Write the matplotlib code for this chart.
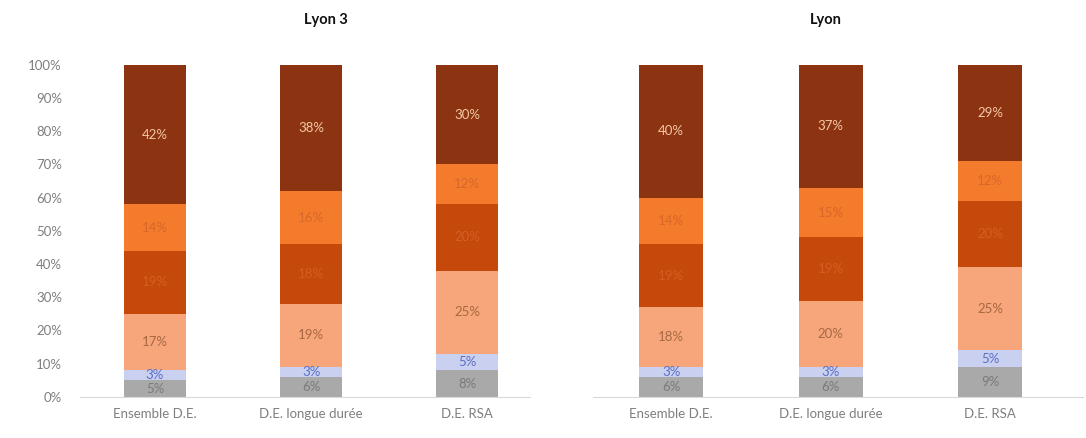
import matplotlib.pyplot as plt
import numpy as np

plt.rcParams["font.family"] = ["Lato", "DejaVu Sans"]

categories = ["Ensemble D.E.", "D.E. longue durée", "D.E. RSA"]
panel_titles = ["Lyon 3", "Lyon"]

# stacked shares, bottom to top
lyon3 = [
    [5, 6, 8],     # gris
    [3, 3, 5],     # lavande
    [17, 19, 25],  # pêche
    [19, 18, 20],  # orange foncé
    [14, 16, 12],  # orange
    [42, 38, 30],  # brun
]
lyon = [
    [6, 6, 9],
    [3, 3, 5],
    [18, 20, 25],
    [19, 19, 20],
    [14, 15, 12],
    [40, 37, 29],
]

seg_colors = ["#a9a9a9", "#c9d0f0", "#f6a67a", "#c4490b", "#f47a2c", "#8c3411"]
txt_colors = ["#7a7a7a", "#5b6fc4", "#a86842", "#d65e24", "#d8672a", "#f4c7a6"]

fig = plt.figure(figsize=(10.86, 4.38), dpi=100)
ax_l = fig.add_axes([0.0737, 0.094, 0.414, 0.758])
ax_r = fig.add_axes([0.546, 0.094, 0.451, 0.758])


def draw_panel(ax, data, xlim, show_y):
    x = np.arange(len(categories))
    bottom = np.zeros(len(categories))
    for vals, col, tcol in zip(data, seg_colors, txt_colors):
        vals = np.array(vals, dtype=float)
        ax.bar(x, vals, 0.4, bottom=bottom, color=col, linewidth=0)
        for xi, b, v in zip(x, bottom, vals):
            ax.text(xi, b + v / 2, f"{int(v)}%", ha="center", va="center",
                    fontsize=9.5, color=tcol)
        bottom += vals
    ax.set_xlim(*xlim)
    ax.set_ylim(0, 100)
    ax.set_xticks(x)
    ax.set_xticklabels(categories, fontsize=9.5, color="#7f7f7f")
    ax.set_yticks(np.arange(0, 101, 10))
    if show_y:
        ax.set_yticklabels([f"{v}%" for v in range(0, 101, 10)],
                           fontsize=9.5, color="#7f7f7f")
    else:
        ax.set_yticklabels([])
    ax.tick_params(length=0, pad=8)
    ax.tick_params(axis="y", pad=13)
    for s in ["top", "left", "right"]:
        ax.spines[s].set_visible(False)
    ax.spines["bottom"].set_color("#d9d9d9")


draw_panel(ax_l, lyon3, (-0.48, 2.4), True)
draw_panel(ax_r, lyon, (-0.49, 2.58), False)

fig.text(0.300, 0.955, panel_titles[0], ha="center", va="center",
         fontsize=10.5, weight="bold", color="#111111")
fig.text(0.760, 0.955, panel_titles[1], ha="center", va="center",
         fontsize=10.5, weight="bold", color="#111111")

fig.savefig("out.png", dpi=100, facecolor="white")
